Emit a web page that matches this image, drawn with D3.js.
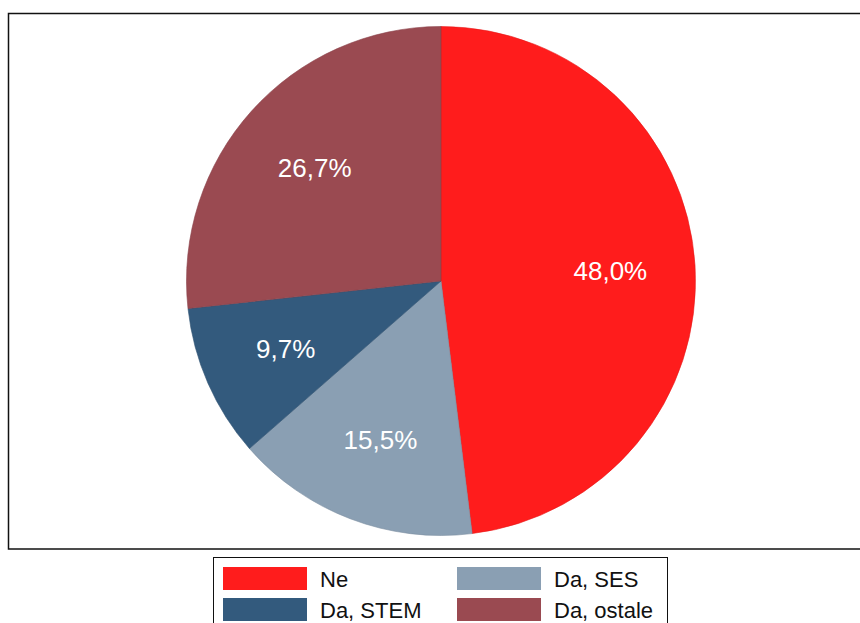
<!DOCTYPE html>
<html><head><meta charset="utf-8">
<script src="https://cdn.jsdelivr.net/npm/d3@7"></script>
<style>body{margin:0;background:#fff;} svg{display:block;}</style>
</head><body>
<script>
const categories = ["Ne", "Da, SES", "Da, STEM", "Da, ostale"];
const values = [48.0, 15.5, 9.7, 26.7];
const labels = ["48,0%", "15,5%", "9,7%", "26,7%"];
const colors = ["#ff1c1c", "#8a9fb3", "#335a7d", "#9a4a51"];
const legendOrder = [0, 1, 2, 3];

const W = 860, H = 623;
const FONT = "'Liberation Sans', Arial, Helvetica, sans-serif";
const svg = d3.select("body").append("svg").attr("width", W).attr("height", H);

svg.append("rect").attr("x", 8.5).attr("y", 13.5).attr("width", 870).attr("height", 535.5)
  .attr("fill", "none").attr("stroke", "#111").attr("stroke-width", 1.5);

const cx = 441, cy = 281, R = 254.5;
const pie = d3.pie().sort(null).value(d => d)(values);
const arc = d3.arc().innerRadius(0).outerRadius(R);
const labelArc = d3.arc().innerRadius(R * 2 / 3).outerRadius(R * 2 / 3);

const g = svg.append("g").attr("transform", `translate(${cx},${cy})`);
g.selectAll("path").data(pie).join("path")
  .attr("d", arc).attr("fill", (d, i) => colors[i])
  .attr("stroke", (d, i) => d3.color(colors[i]).darker(0.3)).attr("stroke-width", 0.6);
g.selectAll("text").data(pie).join("text")
  .attr("transform", d => `translate(${labelArc.centroid(d)})`)
  .attr("text-anchor", "middle").attr("dominant-baseline", "central")
  .attr("fill", "#fff").style("font-family", FONT)
  .style("font-size", "26px").text((d, i) => labels[i]);

// legend
const lg = svg.append("g");
lg.append("rect").attr("x", 213.5).attr("y", 557.5).attr("width", 454).attr("height", 80)
  .attr("fill", "#fff").attr("stroke", "#111").attr("stroke-width", 1);
const colX = [223, 457], rowY = [567, 598];
legendOrder.forEach((k, j) => {
  const c = j % 2, r = Math.floor(j / 2);
  lg.append("rect").attr("x", colX[c]).attr("y", rowY[r]).attr("width", 84).attr("height", 23)
    .attr("fill", colors[k]);
  lg.append("text").attr("x", colX[c] + 97).attr("y", rowY[r] + 12)
    .attr("dominant-baseline", "central").style("font-family", FONT)
    .style("font-size", "22px").attr("fill", "#111").text(categories[k]);
});
</script>
</body></html>
